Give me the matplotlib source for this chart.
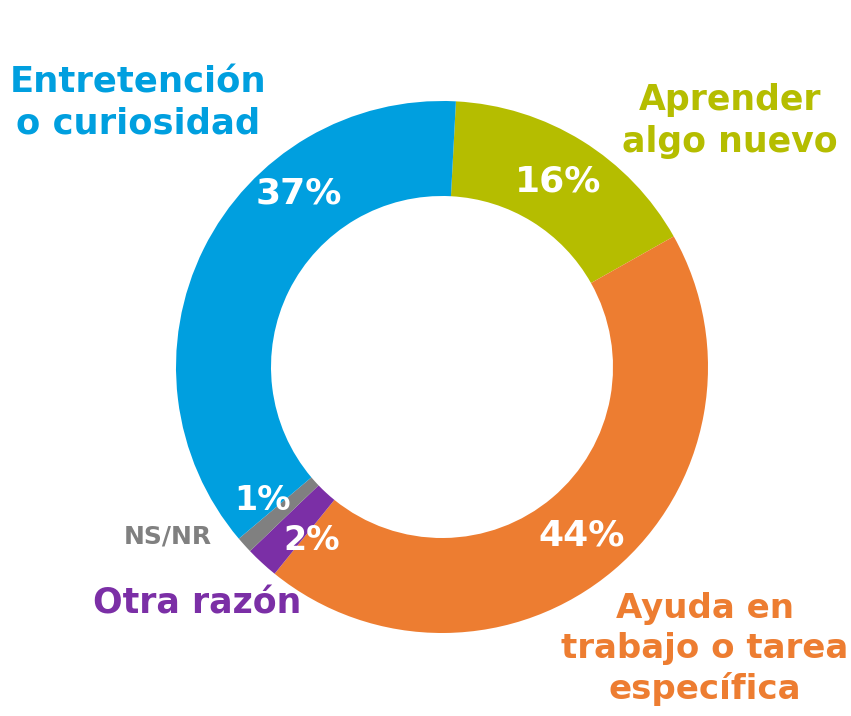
import matplotlib
matplotlib.use("Agg")
import matplotlib.pyplot as plt

categories = ["Aprender\nalgo nuevo", "Ayuda en\ntrabajo o tarea\nespecífica", "Otra razón", "NS/NR", "Entretención\no curiosidad"]
values = [16, 44, 2, 1, 37]
pct_labels = ["16%", "44%", "2%", "1%", "37%"]
colors = ["#B5BD00", "#ED7D31", "#7B2FA6", "#808080", "#009FDF"]

W, H = 851, 716
fig = plt.figure(figsize=(W / 100, H / 100), dpi=100)
ax = fig.add_axes([0, 0, 1, 1])
ax.set_xlim(0, W)
ax.set_ylim(0, H)
ax.set_aspect("equal")
ax.axis("off")

cx, cy, R = 442, H - 367, 266
ax.pie(values, colors=colors, startangle=87, counterclock=False,
       center=(cx, cy), radius=R, wedgeprops=dict(width=R - 171, linewidth=0),
       frame=True)
ax.set_xlim(0, W)
ax.set_ylim(0, H)
ax.axis("off")

fam = ["DejaVu Sans"]

# percentage labels (pixel positions)
pct_pos = [(558, 182), (582, 536), (312, 540), (263, 500), (299, 193)]
pct_sizes = [26, 26, 24, 24, 26]
for lab, (x, y), s in zip(pct_labels, pct_pos, pct_sizes):
    ax.text(x, H - y, lab, color="white", fontsize=s, fontweight="bold",
            family=fam, ha="center", va="center")

# category labels
cat_pos = [(730, 121), (705, 649), (197, 603), (168, 537), (138, 103)]
cat_sizes = [25, 24.5, 25, 18, 25.5]
for lab, (x, y), s, c in zip(categories, cat_pos, cat_sizes, colors):
    ax.text(x, H - y, lab, color=c, fontsize=s, fontweight="bold",
            family=fam, ha="center", va="center", linespacing=1.28)

fig.savefig("out.png", dpi=100)
